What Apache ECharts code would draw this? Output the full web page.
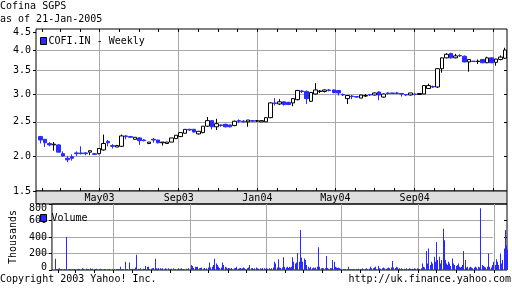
<!DOCTYPE html>
<html><head><meta charset="utf-8">
<script src="https://cdn.jsdelivr.net/npm/echarts@6/dist/echarts.min.js"></script>
<style>html,body{margin:0;padding:0;background:#fff}#c{width:512px;height:288px}</style>
</head><body><div id="c"></div>
<script>
const FONT = 'DejaVu Sans Mono';
const BLUE = '#2a2aff';
const GRIDC = '#a8a8a8';

// ---- data ----
const firstWeekMid = '2003-01-29';      // Wednesday of first weekly candle
const opens  = [2.27,2.23,2.17,2.15,2.15,2.03,1.97,1.99,2.04,2.04,2.04,2.05,2.03,2.03,2.08,2.20,2.14,2.12,2.13,2.28,2.27,2.23,2.25,2.22,2.17,2.23,2.22,2.18,2.17,2.19,2.24,2.27,2.32,2.38,2.38,2.31,2.33,2.43,2.52,2.42,2.45,2.46,2.45,2.44,2.52,2.51,2.50,2.52,2.51,2.50,2.50,2.57,2.83,2.81,2.85,2.84,2.83,2.89,3.06,3.05,2.86,3.00,3.05,3.05,3.08,3.08,3.07,2.99,2.91,2.96,2.95,2.92,2.96,2.99,2.98,3.04,2.94,3.02,3.02,3.02,3.01,2.99,2.98,3.00,2.99,3.00,3.11,3.15,3.14,3.54,3.80,3.91,3.80,3.86,3.84,3.70,3.72,3.71,3.76,3.68,3.80,3.69,3.76,3.79];
const closes = [2.22,2.18,2.15,2.16,2.05,2.00,1.95,1.97,2.03,2.03,2.03,2.07,2.02,2.10,2.17,2.18,2.13,2.14,2.28,2.27,2.26,2.26,2.21,2.21,2.19,2.22,2.18,2.19,2.19,2.25,2.29,2.33,2.38,2.37,2.34,2.35,2.43,2.52,2.42,2.47,2.44,2.42,2.42,2.51,2.51,2.50,2.53,2.51,2.52,2.52,2.57,2.83,2.82,2.85,2.80,2.80,2.91,3.07,3.05,2.91,3.03,3.08,3.06,3.08,3.07,3.03,3.02,2.98,2.97,2.95,2.94,2.98,2.97,2.98,3.02,2.98,3.00,3.01,3.01,3.01,3.00,2.98,3.02,2.99,3.01,3.17,3.17,3.14,3.54,3.80,3.89,3.80,3.85,3.85,3.70,3.76,3.71,3.72,3.68,3.80,3.68,3.77,3.82,4.00];
const lows   = [2.17,2.12,2.13,2.07,2.05,1.99,1.92,1.94,2.00,2.02,2.01,2.01,2.02,2.02,2.07,2.13,2.10,2.12,2.12,2.23,2.25,2.23,2.15,2.20,2.16,2.18,2.17,2.14,2.17,2.19,2.24,2.27,2.32,2.36,2.33,2.30,2.32,2.42,2.38,2.37,2.42,2.41,2.41,2.43,2.48,2.49,2.42,2.50,2.50,2.50,2.50,2.56,2.78,2.79,2.78,2.79,2.77,2.88,3.02,2.81,2.85,2.99,3.02,3.03,3.05,3.01,2.97,2.96,2.81,2.90,2.93,2.92,2.94,2.96,2.97,2.88,2.93,2.99,3.00,3.00,2.95,2.96,2.97,2.97,2.99,3.00,3.10,3.12,3.12,3.45,3.79,3.78,3.79,3.82,3.69,3.47,3.70,3.65,3.67,3.67,3.67,3.61,3.74,3.78];
const highs  = [2.28,2.23,2.19,2.19,2.16,2.06,2.00,2.02,2.06,2.13,2.05,2.07,2.04,2.10,2.30,2.22,2.16,2.15,2.30,2.29,2.28,2.26,2.26,2.23,2.19,2.25,2.22,2.19,2.19,2.25,2.29,2.33,2.38,2.39,2.39,2.35,2.43,2.58,2.53,2.55,2.46,2.47,2.45,2.52,2.54,2.53,2.53,2.53,2.53,2.52,2.57,2.84,2.92,2.90,2.86,2.85,2.92,3.08,3.08,3.07,3.04,3.22,3.08,3.09,3.10,3.09,3.08,3.01,2.98,2.98,2.96,2.98,3.00,3.00,3.03,3.05,3.01,3.03,3.02,3.04,3.02,3.00,3.02,3.01,3.01,3.18,3.21,3.17,3.55,3.81,3.92,3.93,3.90,3.89,3.86,3.77,3.72,3.76,3.77,3.83,3.81,3.78,3.86,4.06];

const firstTradingDay = '2003-01-27';   // Monday; 5 trading days per week
const volumes = [ // thousands
 135,8,5,10,15, 20,10,5,8,6, 5,8,10,400,10, 8,12,5,10,6,
 10,5,12,8,5, 6,10,15,8,5, 10,20,8,15,6, 5,15,10,8,12,
 20,8,5,15,10, 6,12,8,15,5, 10,5,15,8,12, 5,10,8,6,12,
 8,5,10,6,5, 5,8,6,10,5, 8,6,5,12,8, 40,10,8,5,12,
 100,8,12,10,5, 90,10,5,8,15, 10,12,8,30,185, 15,8,10,20,12,
 10,8,15,12,50, 20,35,15,40,10, 15,20,10,25,8, 135,20,15,10,25,
 20,10,15,20,12, 10,20,8,15,10, 20,10,12,8,15, 10,20,8,12,10,
 8,12,20,10,15, 20,8,12,10,6, 10,15,8,20,12, 15,60,20,50,25,
 40,20,35,15,40, 20,25,15,30,20, 15,20,25,10,20, 25,30,40,90,30,
 40,60,50,135,100, 80,60,40,30,25, 20,30,90,40,60, 40,20,30,15,25,
 20,15,25,20,10, 15,20,25,40,20, 15,20,10,25,15, 20,30,15,20,10,
 15,20,30,60,20, 20,15,25,10,20, 30,15,20,10,15, 20,10,15,25,10,
 20,15,10,20,15, 15,20,10,15,20, 30,20,100,40,80, 30,130,20,30,25,
 20,30,155,40,25, 30,20,40,25,35, 30,40,155,60,100, 80,60,90,70,205,
 100,60,485,150,100, 140,60,120,80,60, 40,30,20,40,25, 20,30,25,20,30,
 30,40,275,260,40, 20,15,25,20,15, 20,170,20,25,15, 20,25,20,80,120,
 100,40,20,30,25, 30,20,15,10,8, 10,8,12,5,10, 8,40,10,6,12,
 10,8,5,12,8, 6,10,8,15,10, 12,8,10,20,8, 10,15,20,12,10,
 15,30,40,20,15, 20,30,40,15,10, 15,50,20,10,15, 20,30,15,20,10,
 15,20,25,30,20, 20,30,110,30,20, 25,40,20,30,15, 20,10,15,20,12,
 10,15,12,20,10, 12,10,20,15,10, 15,12,10,20,15, 10,20,15,12,10,
 20,30,80,40,30, 230,60,40,80,260, 60,100,40,50,80, 160,100,60,340,120,
 100,160,80,120,60, 500,360,200,120,80, 60,100,80,60,50, 140,60,80,40,60,
 50,40,60,80,40, 30,40,60,50,230, 120,40,30,20,40, 30,20,40,30,20,
 20,30,20,40,30, 40,30,20,747,50, 60,40,50,40,30, 40,30,60,200,40,
 30,40,60,100,80, 60,130,80,100,60, 50,200,80,100,120, 260,485,460,300,250
];

const priceLabelValues = [1.59, 2, 2.5, 3, 3.5, 4, 4.5];
const priceLabels = ['1.5','2.0','2.5','3.0','3.5','4.0','4.5'];
const priceGridValues = [2, 2.5, 3, 3.5, 4];
const volLabelValues = [0, 200, 400, 600, 800];
const volGridValues = [200, 400, 600];
const dateLabelDates = ['2003-05-01','2003-09-01','2004-01-01','2004-05-01','2004-09-01'];
const dateLabels = ['May03','Sep03','Jan04','May04','Sep04'];
const dateGridDates = ['2003-05-01','2003-09-01','2004-01-01','2004-05-01','2004-09-01','2005-01-01'];

// ---- build ----
const DAY = 86400000;
const ts = s => Date.parse(s + 'T00:00:00Z');
const xMin = ts('2003-01-22') + 14 * 3600000;
const xMax = ts('2005-01-22') + 6 * 3600000;

const candles = opens.map((o, i) => [ts(firstWeekMid) + i * 7 * DAY + DAY / 2, o, closes[i], lows[i], highs[i]]);
const volData = volumes.map((v, k) => [ts(firstTradingDay) + (Math.floor(k / 5) * 7 + (k % 5)) * DAY + DAY / 2, v]);

const monthTicks = [];
for (let y = 2003; y <= 2005; y++) for (let m = 0; m < 12; m++) {
  const t = Date.UTC(y, m, 1);
  if (t > xMin && t < xMax) monthTicks.push(t);
}
const labelTs = dateLabelDates.map(ts);
const gridTs = dateGridDates.map(ts);

const txt = { fontFamily: FONT, fontSize: 10, color: '#000' };
const hidden = { show: false };
const baseX = (gridIndex, extra) => Object.assign({
  type: 'value', gridIndex, min: xMin, max: xMax,
  axisLine: hidden, axisLabel: hidden, axisTick: hidden, splitLine: hidden
}, extra);
const tickX = (gridIndex, position) => baseX(gridIndex, {
  position,
  axisTick: { show: true, inside: true, length: 3, customValues: monthTicks, lineStyle: { color: '#000' } }
});
const splitX = (gridIndex) => baseX(gridIndex, {
  axisTick: { show: false, customValues: gridTs },
  splitLine: { show: true, lineStyle: { color: GRIDC, width: 1 } }
});

const PRICE = { top: 29, height: 162 };
const BAND = { top: 191, height: 13 };
const VOL = { top: 204, height: 66 };

// volume bars: one 1px rect per trading day, positioned through the axes
function volumeBar(params, api) {
  const base = api.coord([api.value(0), 0]);
  const top = api.coord([api.value(0), api.value(1)]);
  return {
    type: 'rect',
    shape: { x: Math.round(base[0]), y: top[1], width: 1, height: base[1] - top[1] },
    style: { fill: BLUE }
  };
}

const option = {
  animation: false,
  backgroundColor: '#fff',
  title: [
    { text: 'Cofina SGPS', subtext: 'as of 21-Jan-2005', left: 0, top: 0, padding: 0, itemGap: 0,
      textStyle: Object.assign({ fontWeight: 'normal', lineHeight: 13 }, txt),
      subtextStyle: Object.assign({ lineHeight: 13 }, txt) },
    { text: 'Copyright 2003 Yahoo! Inc.', left: 0, top: 273, padding: 0,
      textStyle: Object.assign({ fontWeight: 'normal', lineHeight: 13 }, txt) },
    { text: 'http://uk.finance.yahoo.com', right: 1, top: 273, padding: 0,
      textStyle: Object.assign({ fontWeight: 'normal', lineHeight: 13 }, txt) }
  ],
  legend: [
    { left: 40, top: 36, padding: 0, itemWidth: 6, itemHeight: 7, selectedMode: false,
      textStyle: Object.assign({ padding: [0, 0, 0, -3] }, txt),
      data: [{ name: 'COFI.IN - Weekly', icon: 'rect', itemStyle: { color: BLUE, borderColor: '#000', borderWidth: 1 } }] },
    { left: 40, top: 213, padding: 0, itemWidth: 6, itemHeight: 7, selectedMode: false,
      textStyle: txt,
      data: [{ name: 'Volume', icon: 'rect', itemStyle: { color: BLUE, borderColor: '#000', borderWidth: 1 } }] }
  ],
  grid: [
    Object.assign({ left: 36, right: 5, show: true, borderColor: '#000', borderWidth: 1, backgroundColor: 'transparent' }, PRICE),
    Object.assign({ left: 36, right: 5, show: true, borderColor: '#000', borderWidth: 1, backgroundColor: '#dedede' }, BAND),
    Object.assign({ left: 36, right: 5, show: true, borderColor: '#000', borderWidth: 1, backgroundColor: 'transparent' }, VOL),
    Object.assign({ left: 36, width: 457 }, PRICE),
    Object.assign({ left: 36, width: 457 }, VOL)
  ],
  xAxis: [
    tickX(0, 'bottom'),                 // 0 price (series)
    tickX(0, 'top'),                    // 1
    splitX(0),                          // 2 vertical gridlines price
    baseX(1, {                          // 3 date labels in band
      position: 'bottom',
      axisLabel: Object.assign({ show: true, inside: true, margin: 6, verticalAlign: 'middle',
        customValues: labelTs,
        formatter: v => dateLabels[labelTs.indexOf(v)] || '' }, txt)
    }),
    splitX(2),                          // 4 volume (series) gridlines
    tickX(2, 'top'),                    // 5
    baseX(3, {}),                       // 6 aux
    baseX(4, {})                        // 7 aux
  ],
  yAxis: [
    { type: 'log', gridIndex: 0, min: 1.59, max: 4.59, position: 'left',
      axisLine: hidden, splitLine: hidden,
      axisTick: { show: true, length: 3, customValues: priceLabelValues, lineStyle: { color: '#000' } },
      axisLabel: Object.assign({ margin: 5, customValues: priceLabelValues,
        formatter: v => priceLabels[priceLabelValues.indexOf(v)] || '' }, txt) },
    { type: 'log', gridIndex: 0, min: 1.59, max: 4.59, position: 'right',
      axisLine: hidden, splitLine: hidden, axisLabel: hidden,
      axisTick: { show: true, inside: true, length: 3, customValues: priceGridValues, lineStyle: { color: '#000' } } },
    { type: 'value', gridIndex: 1, min: 0, max: 1, axisLine: hidden, axisLabel: hidden, axisTick: hidden, splitLine: hidden },
    { type: 'value', gridIndex: 2, min: 0, max: 800, position: 'left',
      name: 'Thousands', nameLocation: 'middle', nameRotate: 90, nameGap: 32, nameTextStyle: txt,
      axisLine: hidden, splitLine: hidden,
      axisTick: { show: true, length: 3, customValues: volLabelValues, lineStyle: { color: '#000' } },
      axisLabel: Object.assign({ margin: 5, customValues: volLabelValues,
        formatter: v => v === 800 ? '{top|' + v + '}' : (v === 0 ? '{bot|' + v + '}' : String(v)),
        rich: {
          top: { fontFamily: FONT, fontSize: 10, color: '#000', padding: [8, 0, 0, 0] },
          bot: { fontFamily: FONT, fontSize: 10, color: '#000', padding: [0, 0, 5, 0] }
        } }, txt) },
    { type: 'value', gridIndex: 2, min: 0, max: 800, position: 'right',
      axisLine: hidden, splitLine: hidden, axisLabel: hidden,
      axisTick: { show: true, inside: true, length: 3, customValues: volGridValues, lineStyle: { color: '#000' } } },
    { type: 'log', gridIndex: 3, min: 1.59, max: 4.59, axisLine: hidden, axisLabel: hidden,
      axisTick: { show: false, customValues: priceGridValues },
      splitLine: { show: true, lineStyle: { color: GRIDC, width: 1 } } },
    { type: 'value', gridIndex: 4, min: 0, max: 800, axisLine: hidden, axisLabel: hidden,
      axisTick: { show: false, customValues: volGridValues },
      splitLine: { show: true, lineStyle: { color: GRIDC, width: 1 } } }
  ],
  series: [
    { type: 'candlestick', name: 'COFI.IN - Weekly', xAxisIndex: 0, yAxisIndex: 0,
      barWidth: 4, encode: { x: 0, y: [1, 2, 3, 4] }, data: candles,
      itemStyle: { color: '#ffffff', color0: BLUE, borderColor: '#000000', borderColor0: BLUE, borderWidth: 1 } },
    { type: 'custom', name: 'Volume', xAxisIndex: 4, yAxisIndex: 3,
      renderItem: volumeBar, encode: { x: 0, y: 1 }, itemStyle: { color: BLUE },
      clip: true, data: volData }
  ]
};

const chart = echarts.init(document.getElementById('c'), null, { renderer: 'canvas' });
chart.setOption(option);
</script>
</body></html>
